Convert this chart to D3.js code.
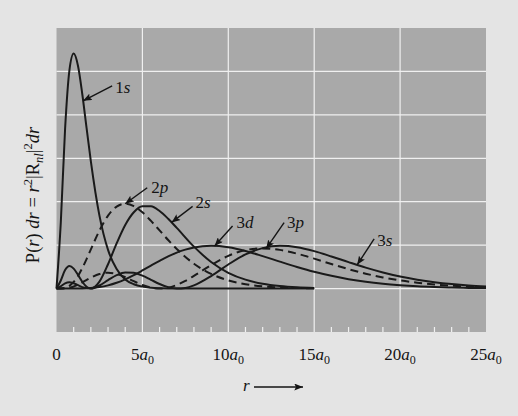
<!DOCTYPE html>
<html>
<head>
<meta charset="utf-8">
<script src="https://cdn.jsdelivr.net/npm/d3@7"></script>
<style>
  body { margin: 0; background: #e4e4e4; }
  svg { display: block; }
  .plot-bg { fill: #a9a9a9; }
  .grid line { stroke: #f0f0f0; stroke-width: 1.2px; }
  .curve { fill: none; stroke: #1a1a1a; stroke-width: 2px; }
  .curve.dashed { stroke-dasharray: 8, 5; }
  .lbl { font-family: "Liberation Serif", "DejaVu Serif", serif; font-size: 17px; fill: #141414; }
  .ylbl { font-size: 18.5px; }
  .it { font-style: italic; }
  .pointer { stroke: #141414; stroke-width: 1.4px; }
</style>
</head>
<body>
<div id="chart"></div>
<script>
// ---- data ----
// radius in units of a0; 1s/2s/2p drawn to 15 a0, n = 3 curves to 25 a0
const rShort = [0, 0.25, 0.5, 0.75, 1, 1.25, 1.5, 1.75, 2, 2.5, 3, 3.5, 4, 4.5, 5, 5.5, 6, 6.5, 7, 8, 9, 10, 11, 12, 13, 14, 15];
const p1s = [0, 0.152, 0.368, 0.502, 0.541, 0.513, 0.448, 0.370, 0.293, 0.168, 0.089, 0.045, 0.021, 0.010, 0.0045, 0.002, 0.0009, 0.0004, 0.0002, 0, 0, 0, 0, 0, 0, 0, 0];
const p2s = [0, 0.0186, 0.0426, 0.0519, 0.0460, 0.0315, 0.0157, 0.0042, 0, 0.0160, 0.0560, 0.1040, 0.1465, 0.1758, 0.1895, 0.1893, 0.1785, 0.1607, 0.1397, 0.0965, 0.0612, 0.0363, 0.0205, 0.0111, 0.0058, 0.0029, 0.0015];
const p2p = [0, 0.0001, 0.0016, 0.0062, 0.0153, 0.0291, 0.0471, 0.0679, 0.0902, 0.1336, 0.1680, 0.1888, 0.1954, 0.1898, 0.1755, 0.1558, 0.1339, 0.1118, 0.0912, 0.0572, 0.0337, 0.0189, 0.0102, 0.0053, 0.0027, 0.0013, 0.0007];

const rLong = [0, 0.25, 0.5, 0.75, 1, 1.5, 2, 2.5, 3, 3.5, 4, 4.5, 5, 5.5, 6, 6.5, 7, 7.5, 8, 9, 10, 11, 12, 13, 14, 15, 16, 17, 18, 19, 20, 21, 22, 23, 24, 25];
const p3s = [0, 0.0053, 0.0121, 0.0144, 0.0122, 0.0033, 0.0002, 0.0071, 0.0194, 0.0309, 0.0371, 0.0362, 0.0297, 0.0201, 0.0105, 0.0033, 0.0001, 0.0015, 0.0074, 0.0288, 0.0554, 0.0787, 0.0931, 0.0984, 0.0953, 0.0862, 0.0740, 0.0609, 0.0483, 0.0372, 0.0278, 0.0204, 0.0146, 0.0103, 0.0071, 0.0049];
const p3p = [0, 0, 0.0005, 0.0020, 0.0048, 0.0140, 0.0250, 0.0334, 0.0365, 0.0336, 0.0263, 0.0170, 0.0082, 0.0022, 0, 0.0022, 0.0083, 0.0177, 0.0293, 0.0541, 0.0753, 0.0885, 0.0925, 0.0891, 0.0804, 0.0689, 0.0565, 0.0447, 0.0343, 0.0257, 0.0188, 0.0135, 0.0095, 0.0066, 0.0045, 0.0030];
const p3d = [0, 0, 0, 0, 0, 0.0003, 0.0013, 0.0035, 0.0074, 0.0133, 0.0213, 0.0309, 0.0417, 0.0529, 0.0638, 0.0740, 0.0827, 0.0897, 0.0947, 0.0985, 0.0952, 0.0867, 0.0748, 0.0621, 0.0498, 0.0386, 0.0293, 0.0216, 0.0156, 0.0111, 0.0078, 0.0053, 0.0036, 0.0024, 0.0016, 0.0011];

const xTicks = [0, 5, 10, 15, 20, 25];
const yGrid = [0, 0.1, 0.2, 0.3, 0.4, 0.5];

const series = [
  { name: "1s", r: rShort, p: p1s, dashed: false },
  { name: "2s", r: rShort, p: p2s, dashed: false },
  { name: "2p", r: rShort, p: p2p, dashed: true },
  { name: "3s", r: rLong, p: p3s, dashed: false },
  { name: "3p", r: rLong, p: p3p, dashed: true },
  { name: "3d", r: rLong, p: p3d, dashed: false }
];

// labels: where the arrow touches the curve (r), plus pixel offsets for arrow tail and text
const notes = [
  { name: "1s", r: 1.55, tail: [29, -15], text: [32, -8] },
  { name: "2p", r: 4.0,  tail: [22, -16], text: [26, -11] },
  { name: "2s", r: 6.7,  tail: [21, -16], text: [24, -14] },
  { name: "3d", r: 9.2,  tail: [18, -20], text: [22, -18] },
  { name: "3p", r: 12.2, tail: [18, -26], text: [21, -21] },
  { name: "3s", r: 17.5, tail: [17, -26], text: [20, -19] }
];

// ---- layout ----
const W = 518, H = 416;
const plot = { left: 56.5, right: 486, top: 28, bottom: 332 };

const svg = d3.select("#chart").append("svg")
  .attr("width", W).attr("height", H);

const defs = svg.append("defs");
defs.append("marker")
  .attr("id", "head")
  .attr("markerUnits", "userSpaceOnUse")
  .attr("viewBox", "0 0 10 8")
  .attr("refX", 10).attr("refY", 4)
  .attr("markerWidth", 9).attr("markerHeight", 7)
  .attr("orient", "auto")
  .append("path").attr("d", "M0,0 L10,4 L0,8 L2,4 z").attr("fill", "#141414");

const x = d3.scaleLinear().domain([0, 25]).range([plot.left, plot.right]);
const y = d3.scaleLinear().domain([-0.1, 0.6]).range([plot.bottom, plot.top]);

// plot background
svg.append("rect").attr("class", "plot-bg")
  .attr("x", plot.left).attr("y", plot.top)
  .attr("width", plot.right - plot.left).attr("height", plot.bottom - plot.top);

// grid
const grid = svg.append("g").attr("class", "grid");
grid.selectAll(".v").data(xTicks.slice(1, -1)).enter().append("line")
  .attr("x1", d => x(d)).attr("x2", d => x(d))
  .attr("y1", plot.top).attr("y2", plot.bottom);
grid.selectAll(".h").data(yGrid).enter().append("line")
  .attr("x1", plot.left).attr("x2", plot.right)
  .attr("y1", d => y(d)).attr("y2", d => y(d));
// small ticks along the bottom edge, one per a0
grid.selectAll(".t").data(d3.range(1, 25).filter(d => d % 5)).enter().append("line")
  .attr("x1", d => x(d)).attr("x2", d => x(d))
  .attr("y1", plot.bottom).attr("y2", plot.bottom - 5);

// curves
const line = d3.line()
  .x(d => x(d[0]))
  .y(d => y(d[1]))
  .curve(d3.curveMonotoneX);

svg.selectAll(".curve").data(series).enter().append("path")
  .attr("class", d => d.dashed ? "curve dashed" : "curve")
  .attr("d", d => line(d.r.map((r, i) => [r, d.p[i]])));

// arrows + labels
function valueAt(s, r) {
  const i = d3.bisectRight(s.r, r) - 1;
  if (i >= s.r.length - 1) return s.p[s.p.length - 1];
  const t = (r - s.r[i]) / (s.r[i + 1] - s.r[i]);
  return s.p[i] + t * (s.p[i + 1] - s.p[i]);
}

notes.forEach(n => {
  const s = series.find(d => d.name === n.name);
  const tx = x(n.r), ty = y(valueAt(s, n.r));
  svg.append("line").attr("class", "pointer")
    .attr("x1", tx + n.tail[0]).attr("y1", ty + n.tail[1])
    .attr("x2", tx).attr("y2", ty)
    .attr("marker-end", "url(#head)");
  const t = svg.append("text").attr("class", "lbl")
    .attr("x", tx + n.text[0]).attr("y", ty + n.text[1]);
  t.append("tspan").text(n.name[0]);
  t.append("tspan").attr("class", "it").text(n.name.slice(1));
});

// x tick labels
const xl = svg.append("g");
xTicks.forEach(v => {
  const t = xl.append("text").attr("class", "lbl")
    .attr("x", x(v)).attr("y", 360).attr("text-anchor", "middle");
  t.append("tspan").text(v);
  if (v > 0) {
    t.append("tspan").attr("class", "it").text("a");
    t.append("tspan").attr("dy", 4).style("font-size", "12px").text("0");
  }
});

// x axis title: r ⟶
svg.append("text").attr("class", "lbl it")
  .attr("x", 243).attr("y", 391).text("r");
svg.append("line").attr("class", "pointer")
  .attr("x1", 254).attr("y1", 387).attr("x2", 303).attr("y2", 387)
  .attr("marker-end", "url(#head)");

// y axis title
const yt = svg.append("text").attr("class", "lbl ylbl")
  .attr("transform", "translate(39,195) rotate(-90)")
  .attr("text-anchor", "middle");
yt.append("tspan").text("P(");
yt.append("tspan").attr("class", "it").text("r");
yt.append("tspan").text(") ");
yt.append("tspan").attr("class", "it").text("dr");
yt.append("tspan").text(" = ");
yt.append("tspan").attr("class", "it").text("r");
yt.append("tspan").attr("dy", -7).style("font-size", "12.5px").text("2");
yt.append("tspan").attr("dy", 7).text("|R");
yt.append("tspan").attr("class", "it").attr("dy", 4).style("font-size", "12.5px").text("nl");
yt.append("tspan").attr("dy", -4).text("|");
yt.append("tspan").attr("dy", -7).style("font-size", "12.5px").text("2");
yt.append("tspan").attr("class", "it").attr("dy", 7).text("dr");
</script>
</body>
</html>
